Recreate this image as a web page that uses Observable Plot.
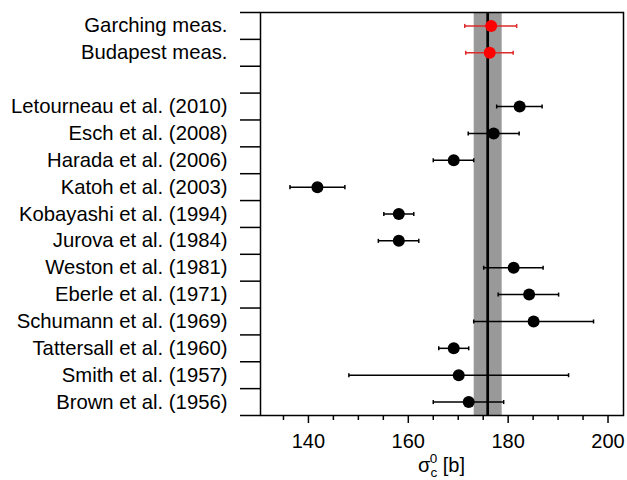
<!DOCTYPE html>
<html>
<head>
<meta charset="utf-8">
<script src="https://cdn.jsdelivr.net/npm/d3@7"></script>
<script src="https://cdn.jsdelivr.net/npm/@observablehq/plot@0.6"></script>
<style>
  body { margin: 0; background: #fff; }
  #chart svg { display: block; }
</style>
</head>
<body>
<div id="chart"></div>
<script>
const labels = ["Garching meas.", "Budapest meas.", "", "Letourneau et al. (2010)", "Esch et al. (2008)",
  "Harada et al. (2006)", "Katoh et al. (2003)", "Kobayashi et al. (1994)", "Jurova et al. (1984)",
  "Weston et al. (1981)", "Eberle et al. (1971)", "Schumann et al. (1969)", "Tattersall et al. (1960)",
  "Smith et al. (1957)", "Brown et al. (1956)"];
const values = [176.6, 176.3, null, 182.3, 177.1, 169.1, 141.8, 158.1, 158.1, 181.1, 184.2, 185.1, 169.1, 170.1, 172.1];
const lows   = [171.3, 171.5, null, 177.7, 172.0, 165.0, 136.3, 155.1, 154.0, 175.1, 178.0, 173.1, 166.1, 148.1, 165.0];
const highs  = [181.7, 181.0, null, 186.8, 182.2, 173.1, 147.3, 161.1, 162.1, 187.0, 190.1, 197.1, 172.1, 192.1, 179.1];
const groups = ["meas", "meas", null, "lit", "lit", "lit", "lit", "lit", "lit", "lit", "lit", "lit", "lit", "lit", "lit"];
const meanValue = 175.9;
const bandLow = 173.2;
const bandHigh = 178.8;
const xMajorTicks = [140, 160, 180, 200];
const xMinorTicks = [135, 145, 150, 155, 165, 170, 175, 185, 190, 195];

const rows = labels.map((label, i) => ({i, label, value: values[i], low: lows[i], high: highs[i], group: groups[i]}))
  .filter(d => d.value != null);
const capHalf = 0.075;
const caps = rows.flatMap(d => [
  {x: d.low, y1: d.i - capHalf, y2: d.i + capHalf, group: d.group},
  {x: d.high, y1: d.i - capHalf, y2: d.i + capHalf, group: d.group}
]);
const rowBounds = d3.range(labels.length + 1).map(k => k - 0.5);
const labelIdx = labels.map((l, i) => i).filter(i => labels[i] !== "");

const barColor = d => d.group === "meas" ? "#dd2a2a" : "black";
const dotColor = d => d.group === "meas" ? "#ff0000" : "black";

const chart = Plot.plot({
  width: 627,
  height: 480,
  marginLeft: 260,
  marginRight: 4,
  marginTop: 12,
  marginBottom: 65,
  style: {fontFamily: "'Liberation Sans', Arial, sans-serif", background: "white", color: "black"},
  x: {domain: [130.4, 203.1]},
  y: {domain: [-0.5, labels.length - 0.5], reverse: true},
  marks: [
    Plot.rect([{lo: bandLow, hi: bandHigh}], {x1: "lo", x2: "hi", fill: "#999999"}),
    Plot.ruleX([meanValue], {stroke: "black", strokeWidth: 2.7}),
    Plot.link(rows, {x1: "low", x2: "high", y1: "i", y2: "i", stroke: barColor, strokeWidth: 1.5}),
    Plot.link(caps, {x1: "x", x2: "x", y1: "y1", y2: "y2", stroke: d => d.group === "meas" ? "#dd2a2a" : "black", strokeWidth: 1.5}),
    Plot.dot(rows, {x: "value", y: "i", r: 6, fill: dotColor, stroke: "none"}),
    Plot.frame({stroke: "black", strokeWidth: 1.5}),
    Plot.axisY({ticks: rowBounds, tickSize: 20, tickFormat: () => "", stroke: "black", strokeWidth: 1.5, label: null}),
    Plot.axisY({ticks: labelIdx, tickSize: 0, tickPadding: 33, tickFormat: i => labels[i], fontSize: 20.3, label: null}),
    Plot.axisX({ticks: xMajorTicks, tickSize: 8, tickPadding: 10, fontSize: 20, tickFormat: d => String(d), strokeWidth: 1.5, label: null}),
    Plot.axisX({ticks: xMinorTicks, tickSize: 5, tickFormat: () => "", strokeWidth: 1.5, label: null})
  ]
});

const svg = d3.select(chart);
const t = svg.append("text")
  .attr("x", (260 + 623) / 2)
  .attr("y", 472)
  .attr("text-anchor", "middle")
  .attr("font-family", "'Liberation Sans', Arial, sans-serif")
  .attr("font-size", 20)
  .attr("fill", "black");
t.append("tspan").text("σ");
t.append("tspan").attr("font-size", 13.5).attr("dy", 5).text("c");
t.append("tspan").attr("font-size", 13.5).attr("dx", -7.5).attr("dy", -14).text("0");
t.append("tspan").attr("dy", 9).text(" [b]");

document.getElementById("chart").appendChild(chart);
</script>
</body>
</html>
